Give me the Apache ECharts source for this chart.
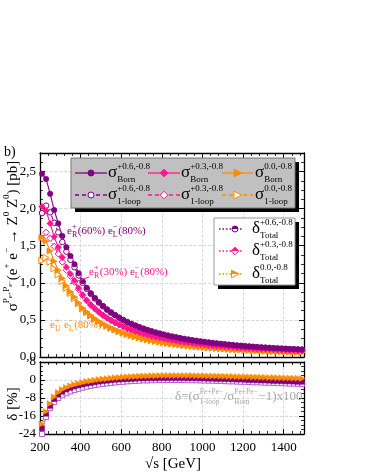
<!DOCTYPE html>
<html><head><meta charset="utf-8">
<script src="https://cdn.jsdelivr.net/npm/echarts@6/dist/echarts.min.js"></script>
<style>html,body{margin:0;padding:0;background:#fff}#c{width:366px;height:473px}</style>
</head><body><div id="c"></div>
<script>
// ---------- data ----------
const energies = [210,230,250,270,290,310,330,350,370,390,410,430,450,470,490,510,530,550,570,590,610,630,650,670,690,710,730,750,770,790,810,830,850,870,890,910,930,950,970,990,1010,1030,1050,1070,1090,1110,1130,1150,1170,1190,1210,1230,1250,1270,1290,1310,1330,1350,1370,1390,1410,1430,1450,1470,1490];
const bornP06 = [2.47,2.40,2.20,1.98,1.80,1.63,1.48,1.36,1.25,1.13,1.02,0.934,0.861,0.796,0.739,0.687,0.641,0.600,0.563,0.529,0.498,0.470,0.444,0.421,0.399,0.379,0.360,0.343,0.327,0.313,0.299,0.286,0.274,0.263,0.252,0.242,0.233,0.224,0.216,0.208,0.201,0.194,0.187,0.181,0.175,0.170,0.164,0.159,0.154,0.150,0.145,0.141,0.137,0.133,0.129,0.126,0.122,0.119,0.116,0.113,0.110,0.107,0.105,0.102,0.100];
const loopP06 = [1.94,2.04,1.95,1.81,1.68,1.55,1.42,1.31,1.21,1.10,1.00,0.919,0.850,0.788,0.734,0.684,0.639,0.599,0.564,0.530,0.499,0.472,0.446,0.424,0.402,0.382,0.363,0.346,0.330,0.316,0.302,0.289,0.276,0.265,0.254,0.244,0.235,0.226,0.218,0.209,0.202,0.195,0.188,0.182,0.176,0.171,0.165,0.159,0.154,0.150,0.145,0.141,0.137,0.133,0.129,0.126,0.122,0.119,0.116,0.112,0.109,0.106,0.104,0.101,0.099];
const bornP03 = [2.03,1.97,1.80,1.62,1.48,1.34,1.21,1.12,1.03,0.93,0.84,0.766,0.706,0.653,0.606,0.563,0.526,0.492,0.462,0.434,0.408,0.385,0.364,0.345,0.327,0.311,0.295,0.281,0.268,0.257,0.245,0.235,0.225,0.216,0.207,0.198,0.191,0.184,0.177,0.171,0.165,0.159,0.153,0.148,0.144,0.139,0.134,0.130,0.126,0.123,0.119,0.116,0.112,0.109,0.106,0.103,0.100,0.098,0.095,0.093,0.090,0.088,0.086,0.084,0.082];
const loopP03 = [1.60,1.68,1.60,1.49,1.39,1.28,1.17,1.09,1.01,0.91,0.83,0.758,0.700,0.650,0.605,0.563,0.527,0.494,0.465,0.437,0.411,0.388,0.368,0.349,0.331,0.315,0.299,0.285,0.271,0.261,0.248,0.238,0.228,0.219,0.210,0.201,0.193,0.186,0.179,0.173,0.167,0.161,0.155,0.149,0.145,0.140,0.135,0.131,0.127,0.124,0.120,0.117,0.113,0.109,0.106,0.103,0.100,0.098,0.095,0.093,0.090,0.088,0.086,0.084,0.082];
const bornP00 = [1.61,1.56,1.43,1.29,1.17,1.06,0.96,0.88,0.81,0.73,0.66,0.607,0.560,0.517,0.480,0.447,0.417,0.390,0.366,0.344,0.324,0.306,0.289,0.274,0.259,0.246,0.234,0.223,0.213,0.203,0.194,0.186,0.178,0.171,0.164,0.157,0.151,0.146,0.140,0.135,0.131,0.126,0.122,0.118,0.114,0.111,0.107,0.103,0.100,0.098,0.094,0.092,0.089,0.086,0.084,0.082,0.079,0.077,0.075,0.073,0.072,0.070,0.068,0.066,0.065];
const loopP00 = [1.30,1.34,1.28,1.19,1.11,1.02,0.93,0.86,0.79,0.72,0.653,0.603,0.558,0.516,0.481,0.449,0.420,0.393,0.370,0.348,0.328,0.310,0.293,0.278,0.263,0.250,0.238,0.227,0.217,0.207,0.198,0.190,0.182,0.174,0.167,0.160,0.154,0.149,0.143,0.138,0.133,0.128,0.124,0.120,0.116,0.113,0.109,0.105,0.102,0.099,0.095,0.093,0.090,0.087,0.085,0.083,0.080,0.078,0.076,0.074,0.073,0.071,0.069,0.067,0.065];
const deltaOrange = [-19.5,-14.0,-10.5,-7.5,-5.5,-4.2,-3.3,-2.6,-2.0,-1.5,-1.1,-0.7,-0.4,-0.1,0.2,0.4,0.6,0.8,1.0,1.1,1.3,1.4,1.5,1.6,1.7,1.8,1.8,1.9,1.9,2.0,2.0,2.0,2.0,2.0,2.0,2.0,2.0,2.0,1.9,1.9,1.9,1.8,1.8,1.8,1.7,1.7,1.6,1.6,1.5,1.5,1.4,1.4,1.3,1.3,1.2,1.2,1.1,1.1,1.0,1.0,0.9,0.9,0.8,0.8,0.7];
const deltaPurple = [-21.5,-15.0,-11.5,-8.5,-6.5,-5.2,-4.2,-3.5,-2.9,-2.4,-2.0,-1.6,-1.3,-1.0,-0.7,-0.5,-0.3,-0.1,0.1,0.2,0.3,0.4,0.5,0.6,0.7,0.7,0.8,0.8,0.8,0.9,0.9,0.9,0.9,0.9,0.9,0.9,0.8,0.8,0.8,0.7,0.7,0.6,0.6,0.5,0.5,0.4,0.4,0.3,0.2,0.2,0.1,0.0,0.0,-0.1,-0.2,-0.2,-0.3,-0.4,-0.4,-0.5,-0.6,-0.6,-0.7,-0.8,-0.8];
const deltaViolet = [-24.0,-16.5,-12.5,-9.8,-8.0,-6.8,-5.9,-5.1,-4.5,-3.9,-3.4,-3.0,-2.6,-2.3,-2.0,-1.7,-1.5,-1.3,-1.1,-0.9,-0.8,-0.6,-0.5,-0.4,-0.3,-0.2,-0.2,-0.1,-0.1,0.0,0.0,0.0,0.0,0.0,0.0,0.0,-0.1,-0.1,-0.1,-0.2,-0.2,-0.3,-0.3,-0.4,-0.4,-0.5,-0.6,-0.6,-0.7,-0.8,-0.8,-0.9,-1.0,-1.0,-1.1,-1.2,-1.2,-1.3,-1.4,-1.4,-1.5,-1.6,-1.6,-1.7,-1.8];
const xTicks = [200,400,600,800,1000,1200,1400];
const sigmaTicks = [0,0.5,1.0,1.5,2.0,2.5];
const deltaTicks = [-24,-16,-8,0,8];

// ---------- styling ----------
const PURPLE = '#800080', PINK = '#ff1493', ORANGE = '#ff8c00', VIOLET = '#b45ad2';
const SERIF = 'Liberation Serif';
const pairs = arr => energies.map((e, i) => [e, arr[i]]);

const ctx = document.createElement('canvas').getContext('2d');
function mw(t, size) { ctx.font = size + 'px "' + SERIF + '"'; return ctx.measureText(t).width; }
function T(x, y, t, size, color, align) {
  return { type: 'text', x: x, y: y, z: 120, silent: true,
    style: { text: t, fill: color || '#000', font: size + 'px "' + SERIF + '"', fontSize: size, fontFamily: SERIF,
      textAlign: align || 'left', textVerticalAlign: 'middle', align: align || 'left', verticalAlign: 'middle' } };
}
function seq(x0, y, parts, size, color) {
  let x = x0; const els = [];
  for (const p of parts) {
    if (typeof p === 'string') { els.push(T(x, y, p, size, color)); x += mw(p, size); }
    else if (p.t !== undefined) { els.push(T(x, y + p.dy, p.t, p.size, color)); x += mw(p.t, p.size); }
    else {
      const s = p.size || Math.round(size * 0.6);
      if (p.s) els.push(T(x, y - size * 0.4, p.s, s, color));
      if (p.b) els.push(T(x, y + size * 0.38, p.b, s, color));
      x += Math.max(p.s ? mw(p.s, s) : 0, p.b ? mw(p.b, s) : 0) + 0.5;
    }
  }
  return { els: els, width: x - x0 };
}
function rotated(cx, cy, parts, size, color) {
  const r = seq(0, 0, parts, size, color);
  r.els.forEach(e => { e.x -= r.width / 2; });
  return { type: 'group', x: cx, y: cy, rotation: Math.PI / 2, children: r.els };
}

const G = [];
// legend 1 (Born / 1-loop)
G.push({ type: 'rect', z: 110, shape: { x: 75, y: 162, width: 224, height: 50 }, style: { fill: '#000' } });
G.push({ type: 'rect', z: 111, shape: { x: 71, y: 158, width: 224, height: 50 }, style: { fill: '#c0c0c0', stroke: '#777', lineWidth: 1 } });
function marker(kind, cx, cy, color, open) {
  const st = { fill: open ? '#fff' : color, stroke: color, lineWidth: 1 };
  if (kind === 'circle') return { type: 'circle', z: 115, shape: { cx: cx, cy: cy, r: 3 }, style: st };
  if (kind === 'diamond') return { type: 'polygon', z: 115, shape: { points: [[cx, cy - 3.8], [cx + 3.8, cy], [cx, cy + 3.8], [cx - 3.8, cy]] }, style: st };
  return { type: 'polygon', z: 115, shape: { points: [[cx - 3.5, cy - 3.8], [cx + 4.2, cy], [cx - 3.5, cy + 3.8]] }, style: st };
}
const leg1 = [
  { x1: 75, x2: 107, color: PURPLE, kind: 'circle', sup: '+0.6,-0.8', sx: 108 },
  { x1: 148, x2: 180, color: PINK, kind: 'diamond', sup: '+0.3,-0.8', sx: 181 },
  { x1: 222, x2: 253, color: ORANGE, kind: 'tri', sup: '0.0,-0.8', sx: 255 }
];
leg1.forEach(c => {
  [[173, false, 'Born'], [195, true, '1-loop']].forEach(([y, open, sub]) => {
    G.push({ type: 'line', z: 114, shape: { x1: c.x1, y1: y, x2: c.x2, y2: y }, style: { stroke: c.color, lineWidth: 1.3, lineDash: open ? [4, 3] : null } });
    G.push(marker(c.kind, (c.x1 + c.x2) / 2, y, c.color, open));
    seq(c.sx, y, ['σ', { s: c.sup, b: sub, size: 9 }], 17, '#000').els.forEach(e => G.push(e));
  });
});
// legend 2 (delta total)
G.push({ type: 'rect', z: 110, shape: { x: 218, y: 222, width: 81, height: 67 }, style: { fill: '#000' } });
G.push({ type: 'rect', z: 111, shape: { x: 214, y: 218, width: 81, height: 67 }, style: { fill: '#fff', stroke: '#999', lineWidth: 1 } });
[[229, PURPLE, 'circle', '+0.6,-0.8'], [251, PINK, 'diamond', '+0.3,-0.8'], [274, ORANGE, 'tri', '0.0,-0.8']].forEach(([y, col, kind, sup]) => {
  G.push({ type: 'line', z: 114, shape: { x1: 219, y1: y, x2: 242, y2: y }, style: { stroke: col, lineWidth: 1.3, lineDash: [1.5, 2] } });
  G.push(marker(kind, 235, y, col, true));
  const half = kind === 'circle'
    ? { type: 'sector', z: 116, shape: { cx: 235, cy: y, r: 3, r0: 0, startAngle: Math.PI, endAngle: 2 * Math.PI }, style: { fill: col } }
    : kind === 'diamond'
      ? { type: 'polygon', z: 116, shape: { points: [[231.2, y], [235, y - 3.8], [238.8, y]] }, style: { fill: col } }
      : { type: 'polygon', z: 116, shape: { points: [[231.5, y - 3.8], [239.2, y], [231.5, y]] }, style: { fill: col } };
  G.push(half);
  seq(252, y, ['δ', { s: sup, b: 'Total', size: 9 }], 17, '#000').els.forEach(e => G.push(e));
});
// polarisation annotations
seq(67, 231, ['e', { s: '+', b: 'R', size: 8 }, '(60%) e', { s: '−', b: 'L', size: 8 }, '(80%)'], 11, PURPLE).els.forEach(e => G.push(e));
seq(89, 272, ['e', { s: '+', b: 'R', size: 8 }, '(30%) e', { s: '−', b: 'L', size: 8 }, '(80%)'], 11, PINK).els.forEach(e => G.push(e));
G.push({ type: 'line', z: 114, shape: { x1: 70, y1: 284, x2: 89, y2: 277 }, style: { stroke: PINK, lineWidth: 1 } });
seq(50, 325, ['e', { s: '+', b: 'U', size: 8 }, ' e', { s: '−', b: 'L', size: 8 }, '(80%)'], 11, ORANGE).els.forEach(e => G.push(e));
// delta definition
seq(175, 397, ['δ=(σ', { s: 'Pe+Pe−', b: '1-loop', size: 7.5 }, '/σ', { s: 'Pe+Pe−', b: 'Born', size: 7.5 }, '−1)x100'], 13, '#a8a8a8').els.forEach(e => G.push(e));
// panel label and axis titles
G.push(T(4, 152, 'b)', 14, '#000'));
G.push(T(173, 464, '√s [GeV]', 15, '#000', 'center'));
G.push(rotated(13, 236, ['σ', { t: 'P', dy: -6, size: 9 }, { t: 'e+', dy: -3, size: 6.5 }, { t: 'P', dy: -6, size: 9 }, { t: 'e−', dy: -3, size: 6.5 },
  '(e', { t: '+', dy: -6, size: 9 }, ' e', { t: '−', dy: -6, size: 9 }, ' → Z', { t: '0', dy: -6, size: 9 }, ' Z', { t: '0', dy: -6, size: 9 }, ') [pb]'], 15, '#000'));
G.push(rotated(13, 404, ['δ [%]'], 15, '#000'));

// ---------- axes ----------
const tickStyle = {
  axisLine: { show: true, onZero: false, lineStyle: { color: '#000', width: 1.3 } },
  axisTick: { show: true, inside: true, length: 5, lineStyle: { color: '#000', width: 1 } }
};
const split = { show: true, lineStyle: { type: 'dashed', color: '#cfcfcf', width: 0.8 } };
const lbl = { fontFamily: SERIF, fontSize: 13, color: '#000' };
function xAx(grid, pos, labels) {
  return Object.assign({ type: 'value', gridIndex: grid, position: pos, min: 200, max: 1500, interval: 200,
    minorTick: { show: true, splitNumber: 5, length: 3, lineStyle: { color: '#000', width: 0.8 } },
    splitLine: pos === 'bottom' ? split : { show: false },
    axisLabel: labels ? Object.assign({ show: true, margin: 7, formatter: v => xTicks.includes(v) ? String(v) : '' }, lbl) : { show: false }
  }, tickStyle);
}
function yAx(grid, pos, labels, min, max, interval, ticks, fmt, minor) {
  return Object.assign({ type: 'value', gridIndex: grid, position: pos, min: min, max: max, interval: interval,
    minorTick: { show: true, splitNumber: minor, length: 3, lineStyle: { color: '#000', width: 0.8 } },
    splitLine: pos === 'left' ? split : { show: false },
    axisLabel: labels ? Object.assign({ show: true, margin: 4, formatter: v => ticks.some(t => Math.abs(t - v) < 1e-9) ? fmt(v) : '' }, lbl) : { show: false }
  }, tickStyle);
}

function ser(name, data, xi, yi, color, symbol, open, dash, size, rot) {
  return { name: name, type: 'line', xAxisIndex: xi, yAxisIndex: yi, data: data, symbol: symbol, symbolSize: size, symbolRotate: rot || 0,
    showSymbol: true, clip: true,
    lineStyle: { color: color, width: 1.1, type: dash },
    itemStyle: open ? { color: '#fff', borderColor: color, borderWidth: 1 } : { color: color, borderColor: color, borderWidth: 0.5 } };
}

const option = {
  animation: false,
  backgroundColor: '#fff',
  grid: [
    { left: 40, top: 153, width: 264, height: 204 },
    { left: 40, top: 362, width: 264, height: 72 }
  ],
  xAxis: [xAx(0, 'bottom', false), xAx(0, 'top', false), xAx(1, 'bottom', true), xAx(1, 'top', false)],
  yAxis: [
    yAx(0, 'left', true, 0, 2.75, 0.5, sigmaTicks, v => v.toFixed(1).replace('.', ','), 4),
    yAx(0, 'right', false, 0, 2.75, 0.5, sigmaTicks, null, 4),
    yAx(1, 'left', true, -24, 8, 8, deltaTicks, v => String(v), 4),
    yAx(1, 'right', false, -24, 8, 8, deltaTicks, null, 4)
  ],
  series: [
    ser('σ 1-loop +0.6', pairs(loopP06), 0, 0, PURPLE, 'circle', true, 'dashed', 5.5),
    ser('σ 1-loop +0.3', pairs(loopP03), 0, 0, PINK, 'diamond', true, 'dashed', 6.5),
    ser('σ 1-loop 0.0', pairs(loopP00), 0, 0, ORANGE, 'triangle', true, 'dashed', 6.5, -90),
    ser('σ Born 0.0', pairs(bornP00), 0, 0, ORANGE, 'triangle', false, 'solid', 6.5, -90),
    ser('σ Born +0.3', pairs(bornP03), 0, 0, PINK, 'diamond', false, 'solid', 6.5),
    ser('σ Born +0.6', pairs(bornP06), 0, 0, PURPLE, 'circle', false, 'solid', 5.5),
    ser('δ violet', pairs(deltaViolet), 2, 2, VIOLET, 'rect', true, 'dotted', 5),
    ser('δ purple', pairs(deltaPurple), 2, 2, PURPLE, 'rect', false, 'dotted', 5),
    ser('δ orange', pairs(deltaOrange), 2, 2, ORANGE, 'triangle', false, 'dotted', 6, -90)
  ],
  graphic: { elements: G }
};
const chart = echarts.init(document.getElementById('c'), null, { renderer: 'canvas' });
chart.setOption(option);
</script>
</body></html>
